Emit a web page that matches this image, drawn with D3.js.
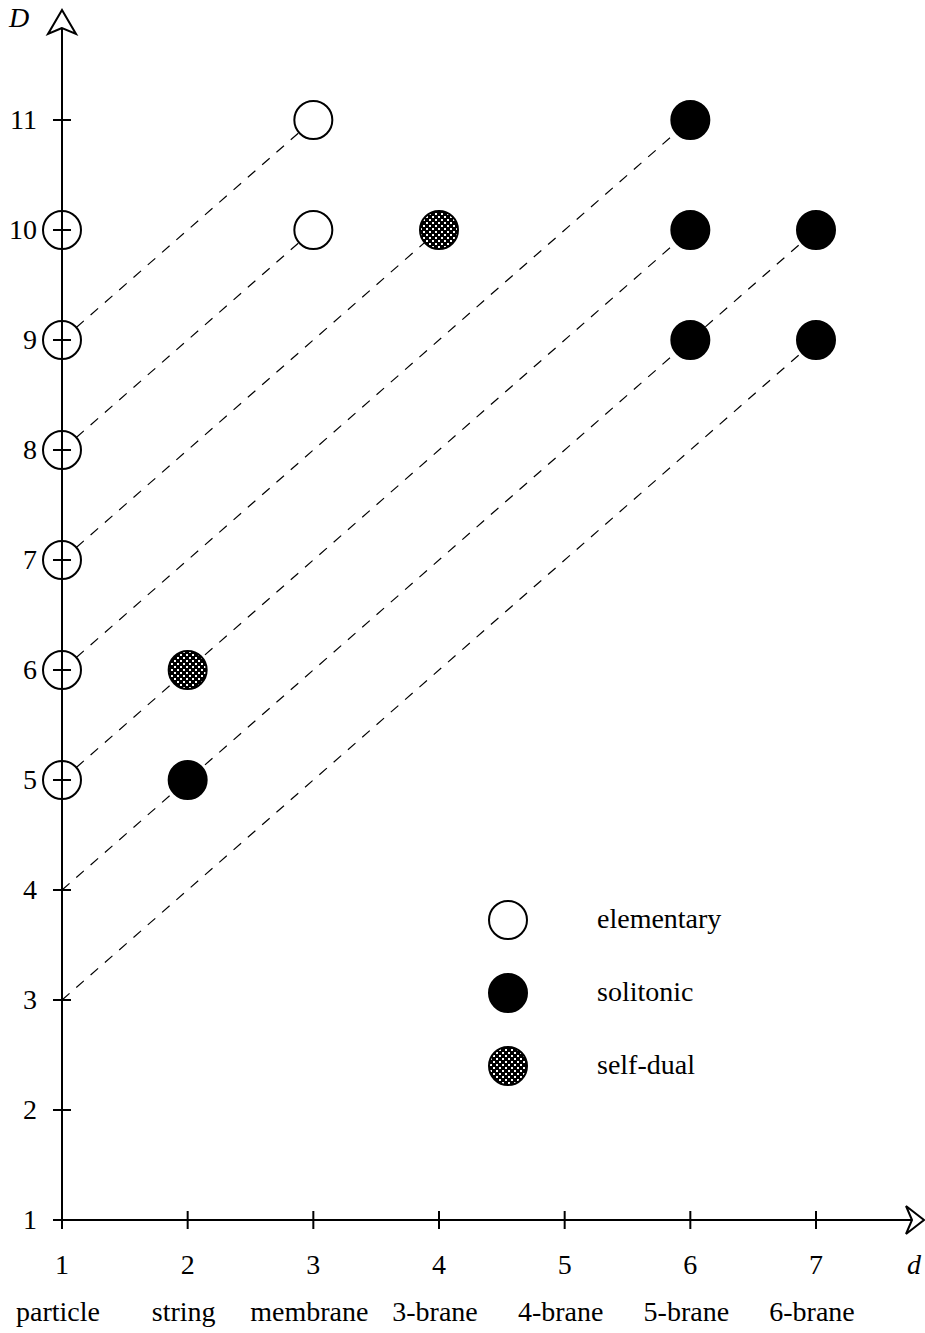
<!DOCTYPE html>
<html lang="en">
<head>
    <meta charset="UTF-8">
    <title>Brane scan</title>
    <script src="https://d3js.org/d3.v7.min.js"></script>
    <style>
        body { margin: 0; background: #fff; }
        svg text { font-family: "Liberation Serif", "DejaVu Serif", serif; font-size: 28px; fill: #000; }
        .dash { stroke: #000; stroke-width: 1.2; stroke-dasharray: 10 9; fill: none; }
        .axis-line { stroke: #000; stroke-width: 2; fill: none; }
    </style>
</head>
<body>
    <svg id="chart" width="925" height="1333"></svg>

    <script>
        // data
        const xTicks = [1, 2, 3, 4, 5, 6, 7];
        const xNames = ["particle", "string", "membrane", "3-brane", "4-brane", "5-brane", "6-brane"];
        const yTicks = [1, 2, 3, 4, 5, 6, 7, 8, 9, 10, 11];
        const axisPoints = [5, 6, 7, 8, 9, 10];           // open circles on the D axis (d = 1)
        const elementary = [[3, 11], [3, 10]];
        const solitonic = [[6, 11], [6, 10], [7, 10], [6, 9], [7, 9], [2, 5]];
        const selfDual = [[4, 10], [2, 6]];
        // dashed lines: [d1, D1, d2, D2]
        const dashLines = [[1, 9, 3, 11], [1, 8, 3, 10], [1, 7, 4, 10], [1, 6, 6, 11],
                           [1, 5, 6, 10], [1, 4, 7, 10], [1, 3, 7, 9]];
        const legendItems = ["elementary", "solitonic", "self-dual"];

        const svg = d3.select("#chart");
        const r = 19;

        const x = d3.scaleLinear().domain([1, 7]).range([62, 816]);
        const y = d3.scaleLinear().domain([1, 11]).range([1220, 120]);

        // hatch pattern for self-dual
        const defs = svg.append("defs");
        const pat = defs.append("pattern")
            .attr("id", "hatch")
            .attr("patternUnits", "userSpaceOnUse")
            .attr("width", 6).attr("height", 6);
        pat.append("rect").attr("width", 6).attr("height", 6).attr("fill", "#000");
        pat.append("rect").attr("x", 0).attr("y", 0).attr("width", 2).attr("height", 2).attr("fill", "#fff");
        pat.append("rect").attr("x", 3).attr("y", 3).attr("width", 2).attr("height", 2).attr("fill", "#fff");

        // dashed lines
        svg.append("g").selectAll("line")
            .data(dashLines)
            .enter().append("line")
            .attr("class", "dash")
            .attr("x1", d => x(d[0])).attr("y1", d => y(d[1]))
            .attr("x2", d => x(d[2])).attr("y2", d => y(d[3]));

        // axes
        const xEnd = 912, yEnd = 28;
        svg.append("line").attr("class", "axis-line")
            .attr("x1", x(1) - 9).attr("y1", y(1)).attr("x2", xEnd).attr("y2", y(1));
        svg.append("line").attr("class", "axis-line")
            .attr("x1", x(1)).attr("y1", y(1) + 9).attr("x2", x(1)).attr("y2", yEnd);

        // arrowheads (open)
        svg.append("path").attr("class", "axis-line").attr("fill", "#fff")
            .attr("d", `M${x(1)},${yEnd} L${x(1) - 14},${yEnd + 6} L${x(1)},10 L${x(1) + 14},${yEnd + 6} Z`);
        svg.append("path").attr("class", "axis-line").attr("fill", "#fff")
            .attr("d", `M${xEnd},${y(1)} L${xEnd - 6},${y(1) - 14} L924,${y(1)} L${xEnd - 6},${y(1) + 14} Z`);

        // open circles on D axis
        svg.append("g").selectAll("circle")
            .data(axisPoints)
            .enter().append("circle")
            .attr("cx", x(1)).attr("cy", d => y(d)).attr("r", r)
            .attr("fill", "#fff").attr("stroke", "#000").attr("stroke-width", 2);
        svg.append("line").attr("class", "axis-line")
            .attr("x1", x(1)).attr("y1", y(d3.min(axisPoints)) + r).attr("x2", x(1)).attr("y2", y(d3.max(axisPoints)) - r);

        // ticks
        svg.append("g").selectAll("line")
            .data(yTicks)
            .enter().append("line").attr("class", "axis-line")
            .attr("x1", x(1) - 9).attr("x2", x(1) + 9)
            .attr("y1", d => y(d)).attr("y2", d => y(d));
        svg.append("g").selectAll("line")
            .data(xTicks)
            .enter().append("line").attr("class", "axis-line")
            .attr("x1", d => x(d)).attr("x2", d => x(d))
            .attr("y1", y(1) - 9).attr("y2", y(1) + 9);

        // tick labels
        svg.append("g").selectAll("text")
            .data(yTicks)
            .enter().append("text")
            .attr("x", 37).attr("y", d => y(d) + 9)
            .attr("text-anchor", "end")
            .text(d => d);
        svg.append("g").selectAll("text")
            .data(xTicks)
            .enter().append("text")
            .attr("x", d => x(d)).attr("y", 1274)
            .attr("text-anchor", "middle")
            .text(d => d);
        svg.append("g").selectAll("text")
            .data(xNames)
            .enter().append("text")
            .attr("x", (d, i) => x(xTicks[i]) - 4).attr("y", 1321)
            .attr("text-anchor", "middle")
            .text(d => d);

        // axis titles
        svg.append("text").attr("x", 9).attr("y", 27).attr("font-style", "italic").text("D");
        svg.append("text").attr("x", 907).attr("y", 1274).attr("font-style", "italic").text("d");

        // points
        function drawPoints(data, fill) {
            svg.append("g").selectAll("circle")
                .data(data)
                .enter().append("circle")
                .attr("cx", d => x(d[0])).attr("cy", d => y(d[1])).attr("r", r)
                .attr("fill", fill)
                .attr("stroke", "#000").attr("stroke-width", 2);
        }
        drawPoints(elementary, "#fff");
        drawPoints(solitonic, "#000");
        drawPoints(selfDual, "url(#hatch)");

        // legend
        const fills = ["#fff", "#000", "url(#hatch)"];
        const legend = svg.append("g").attr("transform", "translate(508, 920)");
        legendItems.forEach((name, i) => {
            legend.append("circle")
                .attr("cx", 0).attr("cy", i * 73).attr("r", r)
                .attr("fill", fills[i]).attr("stroke", "#000").attr("stroke-width", 2);
            legend.append("text")
                .attr("x", 89).attr("y", i * 73 + 8)
                .text(name);
        });
    </script>
</body>
</html>
